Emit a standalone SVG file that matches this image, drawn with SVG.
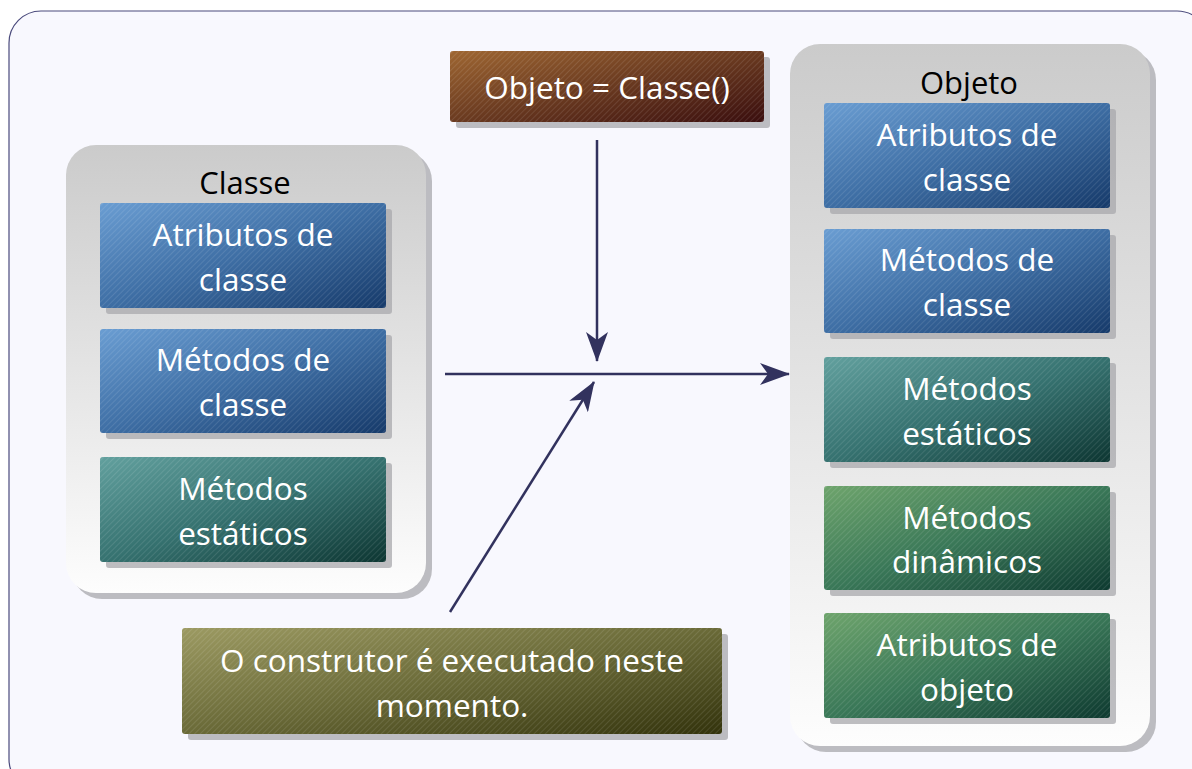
<svg xmlns="http://www.w3.org/2000/svg" width="1192" height="769" viewBox="0 0 1192 769">
<defs>
<style>
.t{font-family:"Open Sans","Liberation Sans",sans-serif;fill:#fff;font-size:31.5px;text-anchor:middle}
.h{font-family:"Open Sans","Liberation Sans",sans-serif;fill:#000;font-size:31px;text-anchor:middle}
.sh{fill:#a8a8ac;opacity:0.75}
.conn{stroke:#32325e;stroke-width:2.5;fill:none}
</style>
<linearGradient id="gBlue" x1="0" y1="0" x2="1" y2="1"><stop offset="0" stop-color="#6a9dd2"/><stop offset="0.5" stop-color="#3e6ea4"/><stop offset="1" stop-color="#163a6a"/></linearGradient>
<linearGradient id="gTeal" x1="0" y1="0" x2="1" y2="1"><stop offset="0" stop-color="#62a09e"/><stop offset="0.5" stop-color="#367270"/><stop offset="1" stop-color="#0d3632"/></linearGradient>
<linearGradient id="gGreen" x1="0" y1="0" x2="1" y2="1"><stop offset="0" stop-color="#6ea46c"/><stop offset="0.5" stop-color="#3a7858"/><stop offset="1" stop-color="#0e3a30"/></linearGradient>
<linearGradient id="gBrown" x1="0" y1="0" x2="1" y2="1"><stop offset="0" stop-color="#9e6632"/><stop offset="0.5" stop-color="#6a3a20"/><stop offset="1" stop-color="#3a0e0e"/></linearGradient>
<linearGradient id="gOlive" x1="0" y1="0" x2="1" y2="1"><stop offset="0" stop-color="#9c9a62"/><stop offset="0.5" stop-color="#6a6a38"/><stop offset="1" stop-color="#33330c"/></linearGradient>
<linearGradient id="gCont" x1="0" y1="0" x2="0" y2="1"><stop offset="0" stop-color="#cbcbcb"/><stop offset="1" stop-color="#fdfdfd"/></linearGradient>
<pattern id="hatch" width="4" height="4" patternUnits="userSpaceOnUse" patternTransform="rotate(45)"><rect width="1" height="4" fill="#fff" opacity="0.1"/></pattern>
<marker id="arr" viewBox="0 0 30 22" refX="29" refY="11" markerWidth="30" markerHeight="22" markerUnits="userSpaceOnUse" orient="auto"><path d="M0,0 L30,11 L0,22 L8,11 Z" fill="#32325e"/></marker>
</defs>
<rect x="9" y="11" width="1200" height="780" rx="32" fill="#f8f8fe" stroke="#4a4a7c" stroke-width="1.2"/>

<g id="classe">
<rect class="sh" x="72" y="151" width="360" height="448" rx="30"/>
<rect x="66" y="145" width="360" height="448" rx="30" fill="url(#gCont)"/>
<text class="h" x="245" y="194">Classe</text>
</g>
<g id="classe-atributos">
<rect class="sh" x="106" y="209" width="286" height="105" rx="3"/>
<rect x="100" y="203" width="286" height="105" rx="3" fill="url(#gBlue)"/>
<rect x="100" y="203" width="286" height="105" rx="3" fill="url(#hatch)"/>
<text class="t" x="243" y="246">Atributos de</text>
<text class="t" x="243" y="291">classe</text>
</g>
<g id="classe-metodos">
<rect class="sh" x="106" y="335" width="286" height="104" rx="3"/>
<rect x="100" y="329" width="286" height="104" rx="3" fill="url(#gBlue)"/>
<rect x="100" y="329" width="286" height="104" rx="3" fill="url(#hatch)"/>
<text class="t" x="243" y="371">Métodos de</text>
<text class="t" x="243" y="416">classe</text>
</g>
<g id="classe-estaticos">
<rect class="sh" x="106" y="463" width="286" height="105" rx="3"/>
<rect x="100" y="457" width="286" height="105" rx="3" fill="url(#gTeal)"/>
<rect x="100" y="457" width="286" height="105" rx="3" fill="url(#hatch)"/>
<text class="t" x="243" y="500">Métodos</text>
<text class="t" x="243" y="545">estáticos</text>
</g>

<g id="objeto">
<rect class="sh" x="796" y="50" width="360" height="702" rx="30"/>
<rect x="790" y="44" width="360" height="702" rx="30" fill="url(#gCont)"/>
<text class="h" x="969" y="94">Objeto</text>
</g>
<g id="objeto-atributos-classe">
<rect class="sh" x="830" y="109" width="286" height="105" rx="3"/>
<rect x="824" y="103" width="286" height="105" rx="3" fill="url(#gBlue)"/>
<rect x="824" y="103" width="286" height="105" rx="3" fill="url(#hatch)"/>
<text class="t" x="967" y="146">Atributos de</text>
<text class="t" x="967" y="191">classe</text>
</g>
<g id="objeto-metodos-classe">
<rect class="sh" x="830" y="235" width="286" height="104" rx="3"/>
<rect x="824" y="229" width="286" height="104" rx="3" fill="url(#gBlue)"/>
<rect x="824" y="229" width="286" height="104" rx="3" fill="url(#hatch)"/>
<text class="t" x="967" y="271">Métodos de</text>
<text class="t" x="967" y="316">classe</text>
</g>
<g id="objeto-estaticos">
<rect class="sh" x="830" y="363" width="286" height="105" rx="3"/>
<rect x="824" y="357" width="286" height="105" rx="3" fill="url(#gTeal)"/>
<rect x="824" y="357" width="286" height="105" rx="3" fill="url(#hatch)"/>
<text class="t" x="967" y="400">Métodos</text>
<text class="t" x="967" y="445">estáticos</text>
</g>
<g id="objeto-dinamicos">
<rect class="sh" x="830" y="492" width="286" height="104" rx="3"/>
<rect x="824" y="486" width="286" height="104" rx="3" fill="url(#gGreen)"/>
<rect x="824" y="486" width="286" height="104" rx="3" fill="url(#hatch)"/>
<text class="t" x="967" y="529">Métodos</text>
<text class="t" x="967" y="573">dinâmicos</text>
</g>
<g id="objeto-atributos-objeto">
<rect class="sh" x="830" y="619" width="286" height="105" rx="3"/>
<rect x="824" y="613" width="286" height="105" rx="3" fill="url(#gGreen)"/>
<rect x="824" y="613" width="286" height="105" rx="3" fill="url(#hatch)"/>
<text class="t" x="967" y="656">Atributos de</text>
<text class="t" x="967" y="701">objeto</text>
</g>

<g id="chamada">
<rect class="sh" x="456" y="57" width="314" height="71" rx="3"/>
<rect x="450" y="51" width="314" height="71" rx="3" fill="url(#gBrown)"/>
<rect x="450" y="51" width="314" height="71" rx="3" fill="url(#hatch)"/>
<text class="t" x="607" y="99">Objeto = Classe()</text>
</g>
<g id="construtor">
<rect class="sh" x="188" y="634" width="540" height="106" rx="3"/>
<rect x="182" y="628" width="540" height="106" rx="3" fill="url(#gOlive)"/>
<rect x="182" y="628" width="540" height="106" rx="3" fill="url(#hatch)"/>
<text class="t" x="452" y="672">O construtor é executado neste</text>
<text class="t" x="452" y="717">momento.</text>
</g>

<g id="connectors">
<line class="conn" x1="597" y1="140" x2="597" y2="361" marker-end="url(#arr)"/>
<line class="conn" x1="445" y1="374" x2="789" y2="374" marker-end="url(#arr)"/>
<line class="conn" x1="450" y1="612" x2="594" y2="382" marker-end="url(#arr)"/>
</g>
</svg>
